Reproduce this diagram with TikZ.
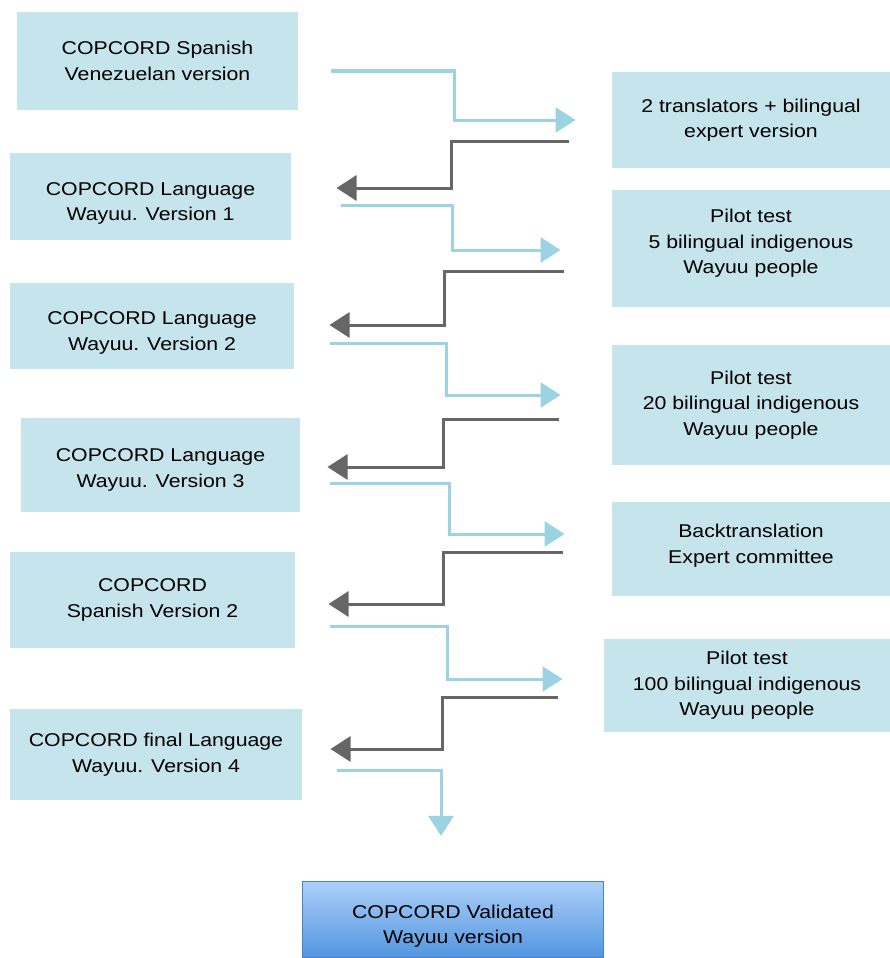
\documentclass[tikz,border=0pt]{standalone}
\usepackage{fontspec}
\setmainfont{Liberation Sans}[FakeStretch=1.15]
\usetikzlibrary{arrows.meta, positioning}

\definecolor{boxblue}{RGB}{197,228,236}
\definecolor{fwdblue}{RGB}{155,211,227}
\definecolor{backgray}{RGB}{102,102,102}
\definecolor{finaltop}{RGB}{172,207,248}
\definecolor{finalbot}{RGB}{82,150,224}
\definecolor{finaledge}{RGB}{72,130,200}

% extra room above the first line / below the last line
\newcommand{\padtop}[1]{\rule{0pt}{#1}}
\newcommand{\padbot}[1]{\rule[-#1]{0pt}{0pt}}

\begin{document}
\begin{tikzpicture}[x=1pt, y=-1pt, line width=3pt,
    font=\fontsize{18.5pt}{25.5pt}\selectfont,
    box/.style = {fill=boxblue, align=center, inner sep=0pt},
    fwd/.style = {draw=fwdblue, -{Triangle[length=20pt, width=25pt]}},
    back/.style = {draw=backgray, -{Triangle[length=20pt, width=25pt]}}]
    \useasboundingbox (0,0) rectangle (890,958);

    % left column
    \node[box, minimum width=281pt, minimum height=98pt] (L1) at (157.5,61) {COPCORD Spanish\\Venezuelan version};
    \node[box, minimum width=281pt, minimum height=87pt] (L2) at (150.5,196.5) {\padtop{27pt}COPCORD Language\\Wayuu. Version 1};
    \node[box, minimum width=284pt, minimum height=86pt] (L3) at (152,326) {\padtop{27pt}COPCORD Language\\Wayuu. Version 2};
    \node[box, minimum width=279pt, minimum height=94pt] (L4) at (160.5,465) {\padtop{23pt}COPCORD Language\\Wayuu. Version 3};
    \node[box, minimum width=285pt, minimum height=96pt] (L5) at (152.5,600) {COPCORD\\Spanish Version 2};
    \node[box, minimum width=292pt, minimum height=91pt] (L6) at (156,754.5) {COPCORD final Language\\Wayuu. Version 4};

    % right column
    \node[box, minimum width=278pt, minimum height=96pt] (R1) at (751,120) {2 translators + bilingual\\expert version};
    \node[box, minimum width=278pt, minimum height=117pt] (R2) at (751,248.5) {Pilot test\\5 bilingual indigenous\\Wayuu people\padbot{14pt}};
    \node[box, minimum width=278pt, minimum height=120pt] (R3) at (751,405) {Pilot test\\20 bilingual indigenous\\Wayuu people};
    \node[box, minimum width=278pt, minimum height=94pt] (R4) at (751,549) {Backtranslation\\Expert committee\padbot{10pt}};
    \node[box, minimum width=286pt, minimum height=93pt] (R5) at (747,685.5) {Pilot test\\100 bilingual indigenous\\Wayuu people};

    \node[draw=finaledge, line width=1.2pt, top color=finaltop, bottom color=finalbot,
          align=center, minimum width=301pt, minimum height=76pt, inner sep=0pt] (V) at (453,919.5) {\padtop{27pt}COPCORD Validated\\Wayuu version};

    % forward and back steps
    \draw[fwd] ([shift={(31,10)}]L1.east) -- ++(124,0) |- ([xshift=-35pt]R1.west);
    \draw[back] ([shift={(-42,21)}]R1.west) -- ++(-117,0) |- ([shift={(44,-8.5)}]L2.east);
    \draw[fwd] ([shift={(48,8.5)}]L2.east) -- ++(112,0) |- ([shift={(-50,1.5)}]R2.west);
    \draw[back] ([shift={(-47,22.5)}]R2.west) -- ++(-119,0) |- ([shift={(34,-1)}]L3.east);
    \draw[fwd] ([shift={(34,17)}]L3.east) -- ++(117,0) |- ([shift={(-50,-10)}]R3.west);
    \draw[back] ([shift={(-52,14)}]R3.west) -- ++(-115,0) |- ([shift={(26,2)}]L4.east);
    \draw[fwd] ([shift={(28,18)}]L4.east) -- ++(120,0) |- ([shift={(-46,-15)}]R4.west);
    \draw[back] ([shift={(-48,3)}]R4.west) -- ++(-119,0) |- ([shift={(32,4)}]L5.east);
    \draw[fwd] ([shift={(33,26)}]L5.east) -- ++(118,0) |- ([shift={(-40,-6.5)}]R5.west);
    \draw[back] ([shift={(-45,11.5)}]R5.west) -- ++(-115,0) |- ([shift={(27,-5.5)}]L6.east);
    \draw[fwd] ([shift={(33,15.5)}]L6.east) -| ([shift={(-12,-45)}]V.north);
\end{tikzpicture}
\end{document}
